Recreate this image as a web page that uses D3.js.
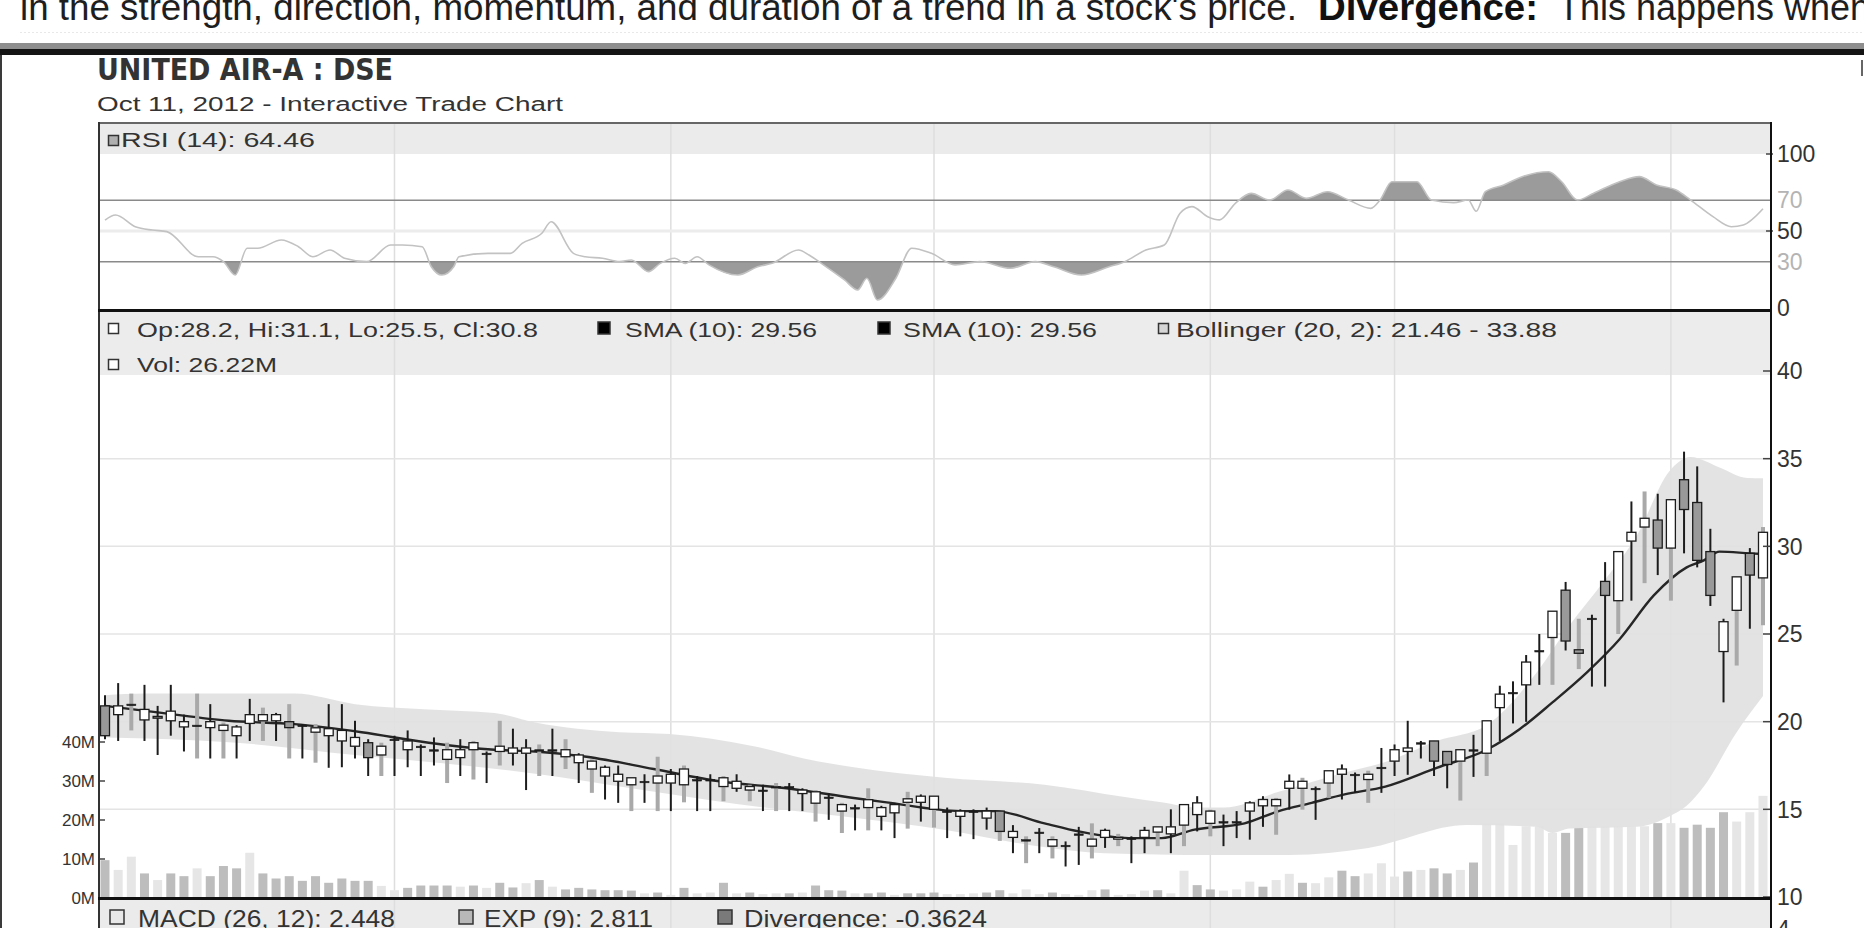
<!DOCTYPE html>
<html>
<head>
<meta charset="utf-8">
<script src="https://cdn.jsdelivr.net/npm/d3@7/dist/d3.min.js"></script>
<style>
body { margin: 0; background: #fff; }
text { font-family: "Liberation Sans", Arial, sans-serif; }
</style>
</head>
<body>
<div id="chart"></div>
<script>
// ---- data (one entry per trading day) ----
var candleOpen = [
    20.9, 20.4, 21.0, 20.1, 20.3, 20.05, 19.7, 19.8, 19.66, 19.5,
    19.2, 19.9, 20.05, 20.05, 20.0, 19.8, 19.4, 19.2, 18.9, 18.6,
    18.8, 18.1, 19.0, 18.4, 18.6, 18.4, 17.85, 17.95, 18.4, 18.2,
    18.3, 18.2, 18.2, 18.4, 18.4, 18.0, 17.66, 17.3, 16.9, 16.6,
    16.4, 16.6, 16.5, 16.5, 16.4, 16.7, 16.7, 16.3, 16.2, 16.1,
    16.1, 16.3, 16.3, 15.9, 15.35, 15.7, 14.9, 15.1, 15.1, 14.6,
    14.8, 15.4, 15.4, 15.0, 14.9, 14.6, 14.9, 14.5, 14.9, 13.4,
    13.27, 13.7, 12.9, 12.95, 13.6, 12.9, 13.4, 13.3, 13.36, 13.4,
    13.7, 13.6, 14.1, 14.7, 14.2, 14.3, 14.3, 14.9, 15.2, 15.2,
    16.2, 16.2, 16.2, 16.5, 17.0, 17.0, 16.7, 17.4, 17.75, 18.3,
    18.8, 18.9, 18.3, 17.75, 18.4, 18.2, 20.8, 21.67, 22.1, 24.06,
    24.8, 27.5, 24.1, 25.9, 28.0, 26.9, 30.3, 31.1, 31.5, 29.9,
    33.8, 32.5, 29.7, 24.0, 26.35, 29.6, 28.2
];
var candleHigh = [
    21.5, 22.2, 21.6, 22.1, 20.9, 22.1, 20.4, 21.6, 21.0, 19.95,
    19.8, 21.3, 20.8, 20.5, 21.0, 19.86, 19.86, 21.0, 21.0, 20.05,
    19.0, 18.8, 19.2, 19.5, 18.7, 19.1, 18.8, 19.0, 18.9, 18.3,
    20.05, 19.6, 19.0, 18.7, 19.6, 19.0, 18.2, 17.85, 17.5, 17.5,
    16.8, 17.0, 18.0, 17.3, 17.5, 16.9, 17.0, 16.9, 17.0, 16.4,
    16.4, 16.5, 16.5, 16.2, 16.1, 15.9, 15.37, 15.27, 16.2, 15.2,
    15.37, 16.0, 15.85, 15.75, 15.1, 15.0, 15.0, 15.1, 14.9, 14.1,
    13.46, 13.93, 13.46, 13.17, 14.0, 14.2, 13.9, 13.6, 13.46, 14.0,
    14.0, 15.0, 15.27, 15.75, 14.98, 14.7, 14.9, 15.46, 15.75, 15.65,
    16.99, 16.8, 16.3, 17.2, 17.56, 17.1, 17.2, 18.5, 18.7, 20.05,
    18.9, 18.9, 18.3, 18.4, 19.25, 20.05, 22.05, 22.3, 23.8, 25.0,
    26.3, 27.97, 25.87, 26.1, 29.1, 29.7, 32.56, 33.13, 33.0, 32.66,
    35.4, 34.56, 31.0, 25.87, 28.26, 29.9, 31.1
];
var candleLow = [
    19.0, 18.9, 19.5, 18.9, 18.1, 19.2, 18.3, 17.9, 17.9, 17.9,
    17.9, 18.9, 18.9, 18.9, 17.9, 17.9, 17.66, 17.37, 17.4, 17.9,
    16.9, 16.9, 16.9, 17.4, 16.9, 17.5, 16.5, 16.9, 16.7, 16.5,
    17.5, 17.5, 16.1, 16.9, 16.9, 17.3, 16.5, 15.94, 15.56, 15.37,
    14.9, 15.37, 14.9, 14.9, 15.4, 14.9, 14.9, 15.46, 16.0, 15.46,
    14.9, 14.9, 14.9, 14.9, 14.3, 14.4, 13.65, 13.8, 13.8, 13.8,
    13.36, 13.9, 14.3, 13.96, 13.36, 13.46, 13.3, 13.84, 13.2, 12.5,
    11.93, 12.5, 12.2, 11.74, 11.83, 12.2, 12.8, 12.9, 11.93, 12.5,
    12.9, 12.5, 12.9, 13.74, 13.46, 12.9, 13.36, 13.27, 14.0, 13.55,
    14.98, 14.98, 14.4, 15.65, 15.56, 15.94, 15.37, 15.94, 16.9, 16.97,
    17.9, 16.9, 16.2, 15.5, 16.85, 16.9, 18.9, 19.9, 19.99, 22.1,
    22.1, 24.06, 23.0, 22.0, 22.0, 25.0, 26.9, 27.9, 28.36, 26.9,
    29.6, 28.8, 26.6, 21.1, 23.2, 25.3, 25.5
];
var candleClose = [
    19.2, 20.9, 21.0, 20.7, 20.2, 20.6, 20.0, 19.8, 20.0, 19.8,
    19.7, 20.4, 20.4, 20.4, 19.66, 19.8, 19.65, 19.6, 19.5, 19.1,
    17.95, 18.6, 19.0, 18.9, 18.6, 18.4, 18.4, 18.4, 18.8, 18.2,
    18.6, 18.5, 18.5, 18.4, 18.4, 18.4, 18.1, 17.75, 17.4, 17.0,
    16.8, 16.6, 16.9, 17.0, 17.3, 16.7, 16.7, 16.8, 16.6, 16.3,
    16.1, 16.3, 16.3, 16.1, 16.0, 15.7, 15.27, 15.1, 15.55, 15.1,
    15.27, 15.6, 15.75, 15.75, 14.9, 14.9, 14.9, 14.9, 13.74, 13.74,
    13.27, 13.7, 13.27, 12.95, 13.6, 13.3, 13.8, 13.4, 13.36, 13.8,
    14.0, 14.0, 15.27, 15.37, 14.9, 14.3, 14.3, 15.37, 15.56, 15.56,
    16.6, 16.6, 16.2, 17.2, 17.3, 17.0, 17.0, 17.4, 18.4, 18.5,
    18.8, 17.75, 17.56, 18.4, 18.4, 20.05, 21.57, 21.67, 23.4, 24.06,
    26.3, 24.6, 23.9, 25.9, 27.2, 29.7, 30.8, 31.6, 29.9, 32.66,
    32.1, 29.2, 27.2, 25.7, 28.26, 28.36, 30.8
];
// k = black wick, g = grey wick
var wickTone = ("kkgkkkkgkg" + "kkgkgkgkkk" + "kgkkkkgkgk" + "gkkgkgkgkk" +
    "gkgkgkkgkg" + "kgkkgkgkgk" + "kgkgkkkkgk" + "gkgkkgkgkk" +
    "gkgkgkkkkg" + "kgkgkkgkkk" + "kkkgkgkkkk" + "gkgkkgkgkg" + "kkkkgkg").split("");

// volume in millions
var volume = [
    9.7, 7.2, 10.6, 6.3, 4.6, 6.3, 5.6, 7.6, 5.6, 8.2,
    7.6, 11.6, 6.3, 5.0, 5.6, 4.4, 5.6, 3.9, 5.0, 4.4,
    4.4, 3.1, 2.0, 2.6, 3.2, 3.2, 3.2, 2.9, 3.2, 2.6,
    3.9, 2.7, 3.8, 4.6, 2.9, 2.2, 2.6, 2.2, 2.0, 2.0,
    1.9, 1.2, 1.4, 0.8, 2.6, 1.2, 1.4, 3.9, 1.2, 1.4,
    1.0, 1.2, 1.2, 1.4, 3.2, 2.0, 1.9, 1.2, 1.2, 1.4,
    0.8, 1.2, 1.2, 1.4, 1.0, 1.0, 1.2, 1.4, 2.0, 1.2,
    2.2, 1.0, 1.4, 1.0, 0.8, 2.0, 2.2, 0.8, 1.0, 1.9,
    2.0, 1.2, 7.0, 3.3, 2.2, 1.9, 2.2, 4.2, 2.9, 4.6,
    6.2, 3.9, 3.8, 5.3, 7.0, 5.6, 6.3, 8.9, 5.5, 6.8,
    7.2, 7.6, 6.3, 7.2, 9.1, 19.2, 19.2, 13.6, 18.4, 18.4,
    16.7, 16.7, 18.0, 18.4, 18.4, 18.4, 18.4, 18.4, 19.2, 19.2,
    18.0, 18.8, 18.0, 22.0, 19.6, 22.0, 26.2
];
// l = light bar, m = mid grey bar
var volTone = ("mllmlmmlmm" + "mlmmmmmmmm" + "mllmmmmlml" + "mmlmlmmmmm" +
    "mlmlmllmlm" + "llmlmmmlmm" + "lmmmlllmml" + "llmlllmlll" +
    "mllmmlllml" + "lmllmmlllm" + "lmmlmlllll" + "lmmlllllml" + "mmmmlll").split("");

// SMA(10) line, read at these day positions
var smaIdx = [0, 4.3, 9.4, 14.4, 19.5, 24.6, 29.6, 32.7, 36.6, 41.7, 46.7, 51.8, 56.9, 59.4, 65,
    67.6, 71.4, 74, 77.8, 80.3, 82.8, 86.6, 89.2, 91.7, 94.2, 97.3, 101.2, 105, 107.5, 110,
    112.6, 115.1, 117.7, 120.2, 121.5, 122.7, 125, 126];
var smaVal = [20.9, 20.5, 20.05, 19.86, 19.4, 18.8, 18.4, 18.3, 18.0, 17.3, 16.6, 16.2, 15.65, 15.4, 14.9,
    14.9, 14.2, 13.74, 13.36, 13.36, 13.84, 14.2, 14.9, 15.37, 15.85, 16.3, 17.37, 18.4, 19.57, 21.1,
    22.8, 24.7, 27.2, 28.8, 29.2, 29.7, 29.6, 29.56];

// Bollinger (20, 2) envelope
var bbUpIdx = [0, 3, 14.4, 19, 24.6, 29.6, 32.7, 39.1, 42.9, 49.3, 53.1, 56.9, 63.8, 71.4, 77.5, 80.3,
    83, 85, 89.2, 94.2, 97.3, 101.2, 105, 108.8, 111.3, 113.9, 116.4, 118.9, 120.5, 122.7, 124.8, 126];
var bbUpVal = [21.5, 21.6, 21.6, 21.0, 20.7, 20.5, 19.95, 19.4, 19.3, 18.6, 17.9, 17.4, 16.8, 16.4, 15.7, 15.4,
    15.1, 15.1, 16.0, 17.1, 17.7, 18.9, 19.8, 22.8, 25.5, 28.0, 30.6, 34.3, 35.1, 34.5, 33.9, 33.88];
var bbLoIdx = [0, 10, 19, 26, 33, 40, 48, 56, 64, 70, 76, 84, 90, 96, 103.5, 108.8, 110, 111.3,
    116.4, 118.9, 120.2, 121.5, 124, 126];
var bbLoVal = [19.1, 18.8, 18.1, 17.6, 17.0, 16.2, 15.3, 14.6, 13.8, 13.0, 12.5, 12.4, 12.4, 12.8, 14.1, 14.0, 13.65, 13.9,
    14.0, 14.6, 15.2, 16.3, 19.4, 21.46];

// RSI (14)
var rsiIdx = [0, 0.8, 2.3, 3.6, 4.7, 7.1, 8.2, 9.0, 9.9, 10.8, 11.6, 13.4, 14.7, 15.8, 17.1, 18.2, 19.9,
    21.7, 22.6, 24.1, 24.8, 25.6, 26.5, 26.9, 29.1, 30.8, 31.7, 33.2, 33.9, 35.6, 36.5, 37.8, 39.1,
    40.0, 41.3, 42.2, 43.3, 44.1, 45.0, 45.9, 48.1, 49.6, 50.7, 52.7, 53.5, 54.6, 56.2, 57.2, 57.9,
    58.7, 60.1, 61.3, 62.8, 64.6, 66.5, 68.8, 70.7, 72.1, 74.2, 76.3, 77.5, 79.1, 80.5, 81.7, 82.6,
    83.8, 84.7, 85.9, 87.1, 88.5, 89.9, 91.3, 92.9, 94.5, 96.2, 96.9, 97.8, 99.7, 100.8, 102.5,
    103.6, 104.2, 104.9, 106.3, 107.7, 109.7, 110.7, 111.9, 113.1, 115.1, 116.6, 117.9, 119.4,
    120.5, 122.2, 123.6, 124.5, 126];
var rsiVal = [57, 60.4, 52.8, 50.6, 49.6, 33.3, 33.3, 30.1, 21.4, 38.8, 38.8, 44.2, 39.8, 33.3, 37.7, 32.3, 30.1,
    40.9, 40.9, 39.8, 26.8, 21.4, 26.8, 33.3, 35.5, 35.5, 42.0, 48.5, 56.0, 35.5, 33.3, 32.3, 30.1,
    31.2, 23.6, 29.0, 32.3, 29.0, 33.3, 28.0, 21.4, 26.8, 29, 37.7, 34.4, 28.0, 18.2, 11.7, 19.3,
    5.2, 19.3, 38.8, 35.5, 28, 30.1, 25.8, 30.1, 26.8, 21.4, 26.8, 30.1, 37.7, 40.9, 61.5, 65.8,
    59.3, 57.2, 68, 74.4, 70.1, 76.6, 71.2, 75.5, 70.1, 64.7, 70.1, 82.0, 82.0, 70.1, 68.4,
    70.1, 62.8, 75.5, 79.9, 85.3, 88.5, 82.0, 70.1, 74.4, 82, 85.3, 79.9, 76.6,
    70.1, 59.3, 52.8, 53.9, 64.46];

// month boundaries (day index) and axis ticks
var monthIdx = [22, 43, 63, 84, 98, 119];
var priceTicks = [10, 15, 20, 25, 30, 35, 40];
var volTicks = [0, 10, 20, 30, 40];
var rsiTicks = [100, 70, 50, 30, 0];

var W = 1864, H = 928;
var svg = d3.select("#chart").append("svg")
    .attr("width", W)
    .attr("height", H)
    .style("display", "block");

var left = 100, right = 1771;
var x = d3.scaleLinear().domain([0, 126]).range([105, 1763]);
var yP = d3.scaleLinear().domain([10, 40]).range([897, 371]);
var yV = d3.scaleLinear().domain([0, 40]).range([898, 742]);
var yR = d3.scaleLinear().domain([0, 100]).range([308, 154]);

function drawHeader() {
    // the page text above the chart is cropped at the top edge
    svg.append("text").attr("x", 20).attr("y", 20)
        .attr("font-size", 36).attr("fill", "#1e1e1e")
        .attr("textLength", 1277).attr("lengthAdjust", "spacingAndGlyphs")
        .text("in the strength, direction, momentum, and duration of a trend in a stock's price.");
    svg.append("text").attr("x", 1318).attr("y", 20)
        .attr("font-size", 36).attr("font-weight", "bold").attr("fill", "#111")
        .attr("textLength", 220).attr("lengthAdjust", "spacingAndGlyphs")
        .text("Divergence:");
    svg.append("text").attr("x", 1558).attr("y", 20)
        .attr("font-size", 36).attr("fill", "#1e1e1e")
        .attr("textLength", 312).attr("lengthAdjust", "spacingAndGlyphs")
        .text("This happens when");

    svg.append("line").attr("x1", 20).attr("x2", W).attr("y1", 32.5).attr("y2", 32.5)
        .attr("stroke", "#e8e8e8").attr("stroke-dasharray", "2,2");
    svg.append("rect").attr("x", 0).attr("y", 43).attr("width", W).attr("height", 6).attr("fill", "#8e8e8e");
    svg.append("rect").attr("x", 0).attr("y", 49).attr("width", W).attr("height", 6).attr("fill", "#141414");
    svg.append("rect").attr("x", 0).attr("y", 55).attr("width", 2).attr("height", H - 55).attr("fill", "#3a3a3a");
    svg.append("rect").attr("x", 1861).attr("y", 60).attr("width", 2).attr("height", 16).attr("fill", "#666");

    svg.append("text").attr("x", 97).attr("y", 80)
        .attr("font-size", 31).attr("font-weight", "bold").attr("fill", "#333")
        .style("font-family", "'Liberation Sans Narrow', 'DejaVu Sans Condensed', sans-serif")
        .attr("textLength", 296).attr("lengthAdjust", "spacingAndGlyphs")
        .text("UNITED AIR-A : DSE");
    svg.append("text").attr("x", 97).attr("y", 111)
        .attr("font-size", 20).attr("fill", "#333")
        .attr("textLength", 466).attr("lengthAdjust", "spacingAndGlyphs")
        .text("Oct 11, 2012 - Interactive Trade Chart");
}

function drawPanels() {
    // legend strips
    svg.append("rect").attr("x", left).attr("y", 124).attr("width", right - left).attr("height", 30).attr("fill", "#ebebeb");
    svg.append("rect").attr("x", left).attr("y", 312).attr("width", right - left).attr("height", 63).attr("fill", "#ececec");
    svg.append("rect").attr("x", left).attr("y", 900).attr("width", right - left).attr("height", H - 900).attr("fill", "#ebebeb");

    // vertical month grid
    svg.append("g").selectAll("line").data(monthIdx).enter().append("line")
        .attr("x1", function (d) { return x(d); })
        .attr("x2", function (d) { return x(d); })
        .attr("y1", 124).attr("y2", H)
        .attr("stroke", "#dedede").attr("stroke-width", 1.5);

    // horizontal price grid
    svg.append("g").selectAll("line").data(priceTicks.filter(function (d) { return d > 10 && d < 40; }))
        .enter().append("line")
        .attr("x1", left).attr("x2", right)
        .attr("y1", function (d) { return yP(d); })
        .attr("y2", function (d) { return yP(d); })
        .attr("stroke", "#e4e4e4").attr("stroke-width", 1.5);
}

function drawRsi() {
    var pts = rsiIdx.map(function (d, i) { return [d, rsiVal[i]]; });
    var defs = svg.append("defs");
    defs.append("clipPath").attr("id", "rsiHigh").append("rect")
        .attr("x", left).attr("y", yR(100)).attr("width", right - left).attr("height", yR(70) - yR(100));
    defs.append("clipPath").attr("id", "rsiLow").append("rect")
        .attr("x", left).attr("y", yR(30)).attr("width", right - left).attr("height", yR(0) - yR(30));

    svg.append("line").attr("x1", left).attr("x2", right).attr("y1", yR(50)).attr("y2", yR(50))
        .attr("stroke", "#ececec").attr("stroke-width", 3);

    var areaHigh = d3.area().curve(d3.curveMonotoneX)
        .x(function (d) { return x(d[0]); })
        .y0(yR(70))
        .y1(function (d) { return yR(d[1]); });
    var areaLow = d3.area().curve(d3.curveMonotoneX)
        .x(function (d) { return x(d[0]); })
        .y0(yR(30))
        .y1(function (d) { return yR(d[1]); });
    svg.append("path").datum(pts).attr("d", areaHigh).attr("fill", "#9b9b9b").attr("clip-path", "url(#rsiHigh)");
    svg.append("path").datum(pts).attr("d", areaLow).attr("fill", "#9b9b9b").attr("clip-path", "url(#rsiLow)");

    [70, 30].forEach(function (v) {
        svg.append("line").attr("x1", left).attr("x2", right).attr("y1", yR(v)).attr("y2", yR(v))
            .attr("stroke", "#8a8a8a").attr("stroke-width", 1.5);
    });

    var line = d3.line().curve(d3.curveMonotoneX)
        .x(function (d) { return x(d[0]); })
        .y(function (d) { return yR(d[1]); });
    svg.append("path").datum(pts).attr("d", line)
        .attr("fill", "none").attr("stroke", "#c2c2c2").attr("stroke-width", 1.6);

    var ax = svg.append("g");
    ax.selectAll("text").data(rsiTicks).enter().append("text")
        .attr("x", 1777).attr("y", function (d) { return yR(d); })
        .attr("dy", "0.36em").attr("font-size", 23)
        .attr("fill", function (d) { return (d === 70 || d === 30) ? "#b4b4b4" : "#333"; })
        .text(function (d) { return d; });
    ax.selectAll("line").data([100, 50]).enter().append("line")
        .attr("x1", right - 5).attr("x2", right + 2)
        .attr("y1", function (d) { return yR(d); })
        .attr("y2", function (d) { return yR(d); })
        .attr("stroke", "#444").attr("stroke-width", 1.5);
}

function drawPrice() {
    var days = d3.range(candleOpen.length);
    var barW = 9;

    // volume bars
    svg.append("g").selectAll("rect").data(days).enter().append("rect")
        .attr("x", function (i) { return x(i) - barW / 2; })
        .attr("y", function (i) { return yV(volume[i]); })
        .attr("width", barW)
        .attr("height", function (i) { return yV(0) - yV(volume[i]); })
        .attr("fill", function (i) { return volTone[i] === "m" ? "#bdbdbd" : "#e6e6e6"; });

    // bollinger envelope
    var up = bbUpIdx.map(function (d, i) { return [d, bbUpVal[i]]; });
    var lo = bbLoIdx.map(function (d, i) { return [d, bbLoVal[i]]; }).reverse();
    var bandLine = d3.line().curve(d3.curveMonotoneX)
        .x(function (d) { return x(d[0]); })
        .y(function (d) { return yP(d[1]); });
    svg.append("path")
        .attr("d", bandLine(up) + "L" + bandLine(lo).slice(1) + "Z")
        .attr("fill", "#e1e1e1").attr("fill-opacity", 0.92);

    // SMA
    var sma = smaIdx.map(function (d, i) { return [d, smaVal[i]]; });
    svg.append("path").datum(sma)
        .attr("d", d3.line().curve(d3.curveMonotoneX)
            .x(function (d) { return x(d[0]); })
            .y(function (d) { return yP(d[1]); }))
        .attr("fill", "none").attr("stroke", "#262626").attr("stroke-width", 2.4);

    // candles
    var g = svg.append("g").selectAll("g").data(days).enter().append("g");
    g.append("line")
        .attr("x1", function (i) { return x(i); })
        .attr("x2", function (i) { return x(i); })
        .attr("y1", function (i) { return yP(candleHigh[i]); })
        .attr("y2", function (i) { return yP(candleLow[i]); })
        .attr("stroke", function (i) { return wickTone[i] === "g" ? "#a9a9a9" : "#1c1c1c"; })
        .attr("stroke-width", function (i) { return wickTone[i] === "g" ? 4 : 2; });
    g.append("rect")
        .attr("x", function (i) { return x(i) - barW / 2; })
        .attr("y", function (i) { return yP(Math.max(candleOpen[i], candleClose[i])); })
        .attr("width", barW)
        .attr("height", function (i) {
            return Math.max(1.5, Math.abs(yP(candleOpen[i]) - yP(candleClose[i])));
        })
        .attr("fill", function (i) {
            if (candleOpen[i] === candleClose[i]) return "#1c1c1c";
            return candleClose[i] > candleOpen[i] ? "#fff" : "#999";
        })
        .attr("stroke", "#1c1c1c")
        .attr("stroke-width", function (i) { return candleOpen[i] === candleClose[i] ? 0.6 : 1.3; });

    // right price axis
    var ax = svg.append("g");
    ax.selectAll("text").data(priceTicks).enter().append("text")
        .attr("x", 1777).attr("y", function (d) { return yP(d); })
        .attr("dy", "0.36em").attr("font-size", 23).attr("fill", "#333")
        .text(function (d) { return d; });
    ax.selectAll("line").data(priceTicks).enter().append("line")
        .attr("x1", right - 8).attr("x2", right)
        .attr("y1", function (d) { return yP(d); })
        .attr("y2", function (d) { return yP(d); })
        .attr("stroke", "#444").attr("stroke-width", 1.5);
    ax.append("text").attr("x", 1777).attr("y", 937).attr("font-size", 23).attr("fill", "#333").text("4");

    // left volume axis
    var vx = svg.append("g");
    vx.selectAll("text").data(volTicks).enter().append("text")
        .attr("x", 95).attr("y", function (d) { return yV(d); })
        .attr("dy", "0.36em").attr("text-anchor", "end")
        .attr("font-size", 17).attr("fill", "#333")
        .text(function (d) { return d + "M"; });
    vx.selectAll("line").data(volTicks).enter().append("line")
        .attr("x1", left).attr("x2", left + 5)
        .attr("y1", function (d) { return yV(d); })
        .attr("y2", function (d) { return yV(d); })
        .attr("stroke", "#444").attr("stroke-width", 1.5);
}

function drawFrames() {
    svg.append("rect").attr("x", left - 1).attr("y", 122).attr("width", right - left + 2).attr("height", 2).attr("fill", "#666");
    svg.append("rect").attr("x", left - 2).attr("y", 122).attr("width", 2).attr("height", H - 122).attr("fill", "#333");
    svg.append("rect").attr("x", right - 1).attr("y", 122).attr("width", 2).attr("height", H - 122).attr("fill", "#111");
    svg.append("rect").attr("x", left - 2).attr("y", 309).attr("width", right - left + 3).attr("height", 3).attr("fill", "#111");
    svg.append("rect").attr("x", left - 2).attr("y", 897).attr("width", right - left + 3).attr("height", 3).attr("fill", "#111");
}

function legendItem(sx, sy, size, fill, tx, ty, fontSize, len, label) {
    svg.append("rect").attr("x", sx).attr("y", sy).attr("width", size).attr("height", size)
        .attr("fill", fill).attr("stroke", "#333").attr("stroke-width", 1.5);
    svg.append("text").attr("x", tx).attr("y", ty)
        .attr("font-size", fontSize).attr("fill", "#333")
        .attr("textLength", len).attr("lengthAdjust", "spacingAndGlyphs")
        .text(label);
}

function drawLegends() {
    legendItem(108.5, 135.5, 10, "#b0b0b0", 121, 147, 20, 194, "RSI (14): 64.46");

    legendItem(108.5, 323.5, 10, "#fff", 137, 337, 21, 401, "Op:28.2, Hi:31.1, Lo:25.5, Cl:30.8");
    legendItem(598, 322, 12, "#000", 625, 337, 21, 192, "SMA (10): 29.56");
    legendItem(878, 322, 12, "#000", 903, 337, 21, 194, "SMA (10): 29.56");
    legendItem(1158.5, 323.5, 10, "#d6d6d6", 1176, 337, 21, 381, "Bollinger (20, 2): 21.46 - 33.88");
    legendItem(108.5, 359.5, 10, "#fff", 137, 372, 21, 140, "Vol: 26.22M");

    legendItem(110, 910, 14, "#e8e8e8", 138, 927, 24, 257, "MACD (26, 12): 2.448");
    legendItem(459, 910, 14, "#b8b8b8", 484, 927, 24, 169, "EXP (9): 2.811");
    legendItem(718, 910, 14, "#7a7a7a", 744, 927, 24, 243, "Divergence: -0.3624");
}

drawHeader();
drawPanels();
drawRsi();
drawPrice();
drawFrames();
drawLegends();
</script>
</body>
</html>
